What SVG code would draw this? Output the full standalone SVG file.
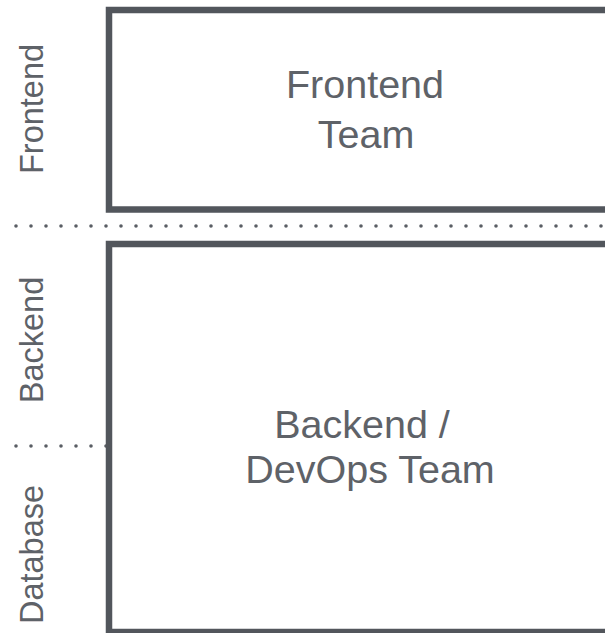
<svg xmlns="http://www.w3.org/2000/svg" width="605" height="633" viewBox="0 0 605 633">
<style>
.box{fill:#ffffff;stroke:#52565c;stroke-width:6.5}
.dots{stroke:#5a5e64;stroke-width:3.6;stroke-linecap:round;stroke-dasharray:0 15;fill:none}
.t{font-family:"Liberation Sans",Arial,sans-serif;fill:#5e6268;text-anchor:middle}
.main{font-size:39.5px}
.side{font-size:32.5px}
</style>
<rect width="605" height="633" fill="#ffffff"/>
<g id="separators">
<line class="dots" x1="16" y1="226" x2="606" y2="226"/>
<line class="dots" x1="16" y1="446" x2="107" y2="446"/>
</g>
<g id="frontend-team">
<rect class="box" x="109" y="10" width="520" height="199.5"/>
<text class="t main" x="365" y="98">Frontend</text>
<text class="t main" x="366" y="148">Team</text>
</g>
<g id="backend-team">
<rect class="box" x="109" y="244" width="520" height="388"/>
<text class="t main" x="362" y="438">Backend /</text>
<text class="t main" x="370" y="483">DevOps Team</text>
</g>
<g id="lane-labels">
<text class="t side" transform="translate(43,109) rotate(-90)">Frontend</text>
<text class="t side" transform="translate(43,340) rotate(-90)">Backend</text>
<text class="t side" transform="translate(43,554.5) rotate(-90)">Database</text>
</g>
</svg>
